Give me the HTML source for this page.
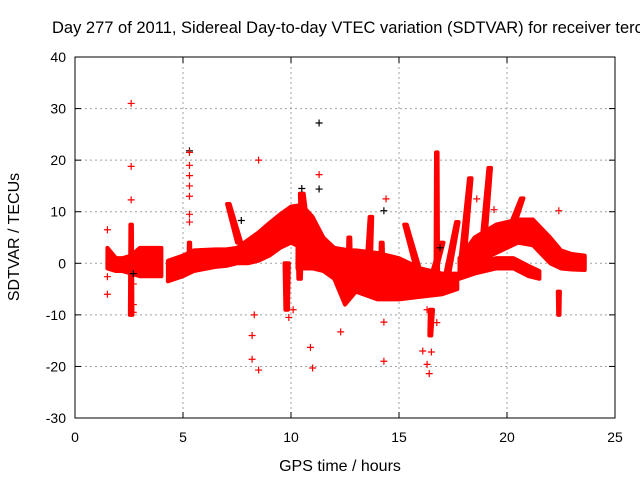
<!DOCTYPE html>
<html><head><meta charset="utf-8"><style>
body{margin:0;background:#fff;overflow:hidden;}
svg{display:block;font-family:"Liberation Sans",sans-serif;}
</style></head><body>
<svg id="chart" width="640" height="480">
<text x="52" y="33" font-size="16.5" fill="#000">Day 277 of 2011, Sidereal Day-to-day VTEC variation (SDTVAR) for receiver terc</text>
<g id="grid"></g>
<g id="marks"></g>
<rect x="75" y="57" width="540" height="361" fill="none" stroke="#000" stroke-width="1"/>
<g id="ticks"></g>
<text x="340" y="471" font-size="16" text-anchor="middle">GPS time / hours</text>
<text x="0" y="0" font-size="16" text-anchor="middle" transform="translate(19,237) rotate(-90)">SDTVAR / TECUs</text>
</svg>
<script>
const xTicks=[0,5,10,15,20,25];
const yTicks=[-30,-20,-10,0,10,20,30,40];
const bandHours=[[1.5,1.9,2.2,2.6,3.0,3.5,4.0],[4.3,5.0,5.5,6.5,7.0,7.5,8.0,8.5,9.0,9.5,10.0,10.5,11.0,11.5,12.0,12.5,13.0,14.0,15.0,16.0,17.0,17.7],[10.3,11,12,12.7,13.5],[17.8,18.5,19.5,20.5,21.2,22,22.5,23.0,23.6],[17.8,18.5,19.5,20.3,21.0,21.5]];
const bandTop=[[3,1,1,1.5,3,3,3],[0.5,1.5,2.5,2.7,2.7,3,4.5,6,7.8,9.5,11,11.3,9,5,3,2.5,2.5,2,1,-1,-2,-2],[4,3,3,2.5,2],[1,5,7.5,8.5,8.5,5,2.5,1.8,1.5],[-1,0,1,1,-0.5,-1.5]];
const bandBottom=[[-1,-1.5,-1.5,-2,-2.5,-2.5,-2.5],[-3.5,-2.5,-1.5,-0.7,-0.5,0,0,0.5,1.5,3,4,3,1,-1.5,-3,-8,-5.5,-7,-7,-6.5,-6,-5],[-1,-1,-2,-3,-4],[-1,0,2,4,3.5,0,-1,-1.2,-1.3],[-3,-2,-1,-1,-2.5,-3]];
const spikeBaseX=[2.6,5.3,7.6,10.6,9.8,10.4,12.7,13.6,14.2,16.0,16.4,17.1,16.75,16.5,17.9,18.8,20.3,22.4];
const spikeBaseY=[-10,-1,4,8,0,4,0,0,-1,-3,-5,-5,-2,-9,-1,-1,8,-5.5];
const spikeTipX=[2.6,5.3,7.1,10.5,9.8,10.4,12.7,13.7,14.2,15.3,17.0,17.7,16.75,16.45,18.3,19.2,20.7,22.4];
const spikeTipY=[7.5,4,11.5,13.5,-9,-3,5,9,4,7.5,4,8,21.5,-14,16.5,18.5,12.6,-10];
const spikeWidth=[0.12,0.1,0.2,0.3,0.2,0.2,0.15,0.2,0.15,0.2,0.2,0.2,0.12,0.15,0.2,0.2,0.2,0.1];
const outX=[2.6,2.6,2.6,1.5,1.5,1.5,2.7,2.7,2.7,5.3,5.3,5.3,5.3,5.3,5.3,5.3,7.8,8.3,8.2,8.5,8.2,8.5,9.9,10.1,10.9,11.0,11.3,14.4,14.3,14.3,12.3,16.3,16.1,16.5,16.4,16.3,18.6,19.4,14.4,22.4,16.75];
const outY=[31,18.8,12.3,6.5,-6,-2.6,-9.5,-8,-4,21.5,19,17,15,13,9.5,8,1.5,-10,-14,-20.7,-18.6,20,-10.5,-9,-16.3,-20.3,17.2,12.5,-19,-11.4,-13.3,-9,-17,-17.2,-21.4,-19.6,12.5,10.4,-4,10.2,-11.5];
const blackX=[11.3,5.3,10.5,11.3,14.3,7.7,2.7,16.9];
const blackY=[27.2,21.8,14.5,14.4,10.2,8.3,-2,3];

const NS="http://www.w3.org/2000/svg";
const X=h=>75+h*21.6, Y=v=>263.3-v*5.157;
const grid=document.getElementById('grid'),ticks=document.getElementById('ticks'),marks=document.getElementById('marks');
function mk(tag,attrs,parent){const e=document.createElementNS(NS,tag);for(const k in attrs)e.setAttribute(k,attrs[k]);parent.appendChild(e);return e;}
xTicks.forEach(t=>{
  if(t>0&&t<25){const g=mk('line',{x1:X(t),x2:X(t),y1:57,y2:418,stroke:'#a0a0a0','stroke-dasharray':'2,3'},grid);
  
  }
  mk('line',{x1:X(t),x2:X(t),y1:418,y2:412,stroke:'#000'},ticks);
  mk('line',{x1:X(t),x2:X(t),y1:57,y2:63,stroke:'#000'},ticks);
  const l=mk('text',{x:X(t),y:442,'font-size':14,'text-anchor':'middle'},ticks);l.textContent=t;
  
  
});
yTicks.forEach(t=>{
  if(t>-30&&t<40){const g=mk('line',{x1:75,x2:615,y1:Y(t),y2:Y(t),stroke:'#a0a0a0','stroke-dasharray':'2,3'},grid);
  
  }
  mk('line',{x1:75,x2:81,y1:Y(t),y2:Y(t),stroke:'#000'},ticks);
  mk('line',{x1:615,x2:609,y1:Y(t),y2:Y(t),stroke:'#000'},ticks);
  const l=mk('text',{x:66,y:Y(t)+5,'font-size':14,'text-anchor':'end'},ticks);l.textContent=t;
  
  
});
bandHours.forEach((hs,i)=>{
  const pts=hs.map((h,j)=>X(h)+','+Y(bandTop[i][j])).concat(hs.slice().reverse().map((h,j)=>X(h)+','+Y(bandBottom[i][hs.length-1-j])));
  const p=mk('polygon',{points:pts.join(' '),fill:'#ff0000',stroke:'#ff0000','stroke-width':4,'stroke-linejoin':'round'},marks);
  
  
});
spikeBaseX.forEach((bx,i)=>{
  const w=spikeWidth[i]/2;
  const pts=[[bx-w,spikeBaseY[i]],[bx+w,spikeBaseY[i]],[spikeTipX[i]+w*0.6,spikeTipY[i]],[spikeTipX[i]-w*0.6,spikeTipY[i]]].map(p=>X(p[0])+','+Y(p[1])).join(' ');
  const p=mk('polygon',{points:pts,fill:'#ff0000',stroke:'#ff0000','stroke-width':4,'stroke-linejoin':'round'},marks);
  
  
});
function plus(x,y,c,name){const g=mk('path',{d:`M${x-3.5},${y}h7M${x},${y-3.5}v7`,stroke:c,'stroke-width':1.2,fill:'none'},marks);
  
  }
blackX.forEach((x,i)=>plus(X(x),Y(blackY[i]),'#000','black-point'));
outX.forEach((x,i)=>plus(X(x),Y(outY[i]),'#ff0000','outlier-point'));
</script>
</body></html>
